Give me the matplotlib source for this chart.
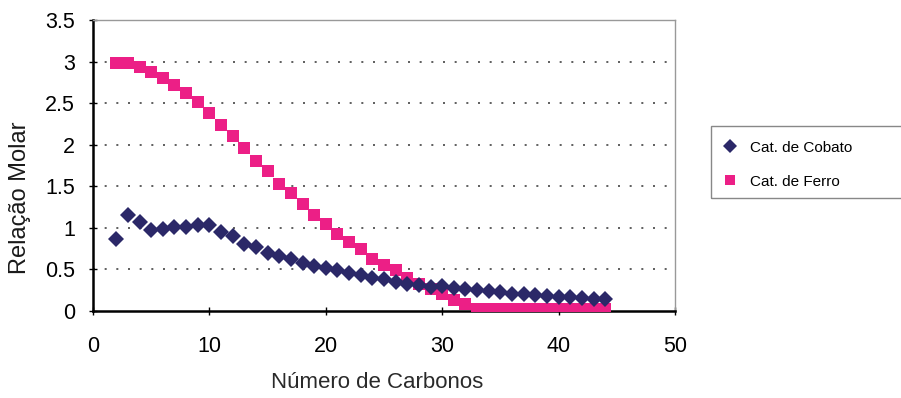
import matplotlib
matplotlib.use("Agg")
import matplotlib.pyplot as plt
from matplotlib.patches import Rectangle

plt.rcParams['font.family'] = ['Liberation Sans', 'DejaVu Sans']

# Carbon number (x) and molar ratio for each catalyst
carbonos = list(range(2, 45))
cobalto = [0.86, 1.15, 1.07, 0.97, 0.99, 1.01, 1.01, 1.04, 1.03, 0.95,
           0.90, 0.81, 0.77, 0.70, 0.66, 0.62, 0.58, 0.54, 0.52, 0.49,
           0.46, 0.43, 0.40, 0.38, 0.35, 0.33, 0.31, 0.29, 0.30, 0.28,
           0.26, 0.25, 0.24, 0.23, 0.21, 0.20, 0.19, 0.18, 0.17, 0.17,
           0.16, 0.15, 0.15]
ferro = [2.98, 2.98, 2.94, 2.87, 2.80, 2.72, 2.62, 2.51, 2.38, 2.24,
         2.11, 1.96, 1.81, 1.68, 1.53, 1.42, 1.29, 1.16, 1.05, 0.93,
         0.83, 0.74, 0.63, 0.55, 0.49, 0.40, 0.33, 0.27, 0.20, 0.13,
         0.08, 0.03, 0.03, 0.03, 0.03, 0.03, 0.03, 0.03, 0.03, 0.03,
         0.03, 0.03, 0.03]

x_ticks = [0, 10, 20, 30, 40, 50]
y_ticks = [0, 0.5, 1, 1.5, 2, 2.5, 3, 3.5]
y_tick_labels = ['0', '0.5', '1', '1.5', '2', '2.5', '3', '3.5']

W, H = 901, 398
fig = plt.figure(figsize=(W / 100, H / 100), dpi=100)
ax = fig.add_axes([93 / W, 1 - 311 / H, (675 - 93) / W, (311 - 20) / H])

navy = '#2b2868'
pink = '#ec1f86'

ax.plot(carbonos, ferro, linestyle='none', marker='s', markersize=8.4,
        color=pink, markeredgewidth=0, label='Cat. de Ferro', zorder=3)
ax.plot(carbonos, cobalto, linestyle='none', marker='D', markersize=8.4,
        color=navy, markeredgewidth=0, label='Cat. de Cobato', zorder=4)

ax.set_xlim(0, 50)
ax.set_ylim(0, 3.5)
ax.set_xticks(x_ticks)
ax.set_yticks(y_ticks)
ax.set_yticklabels(y_tick_labels)

# dotted horizontal gridlines
for yv in y_ticks[1:-1]:
    ax.axhline(yv, color='#444444', linewidth=1.2,
               linestyle=(0, (1.2, 5.8)), zorder=1)

for side in ('left', 'bottom'):
    ax.spines[side].set_color('black')
    ax.spines[side].set_linewidth(1.8)
for side in ('top', 'right'):
    ax.spines[side].set_color('#999999')
    ax.spines[side].set_linewidth(1.0)

ax.tick_params(axis='both', direction='inout', length=6, width=1.0,
               labelsize=15.5, colors='black')
ax.tick_params(axis='y', pad=10)
ax.tick_params(axis='x', pad=15)

fig.text(20 / W, 1 - 198 / H, 'Relação Molar', rotation=90,
         ha='center', va='center', fontsize=17, color='#1a1a1a')
fig.text(377 / W, 1 - 383 / H, 'Número de Carbonos',
         ha='center', va='center', fontsize=16, color='#2a2a2a')

# legend box, open on the right edge
fig.patches.append(Rectangle((711 / W, 1 - 198 / H), (915 - 711) / W, 72 / H,
                             transform=fig.transFigure, fill=False,
                             edgecolor='#888888', linewidth=1.0))
handles, labels = ax.get_legend_handles_labels()
leg = fig.legend(handles[::-1], labels[::-1], loc='upper left',
                 bbox_to_anchor=(712 / W, 1 - 130 / H), frameon=False,
                 fontsize=11, handlelength=1.0, handletextpad=0.8,
                 labelspacing=1.3, borderpad=0.2, markerscale=0.8)

fig.savefig('out.png', dpi=100)
